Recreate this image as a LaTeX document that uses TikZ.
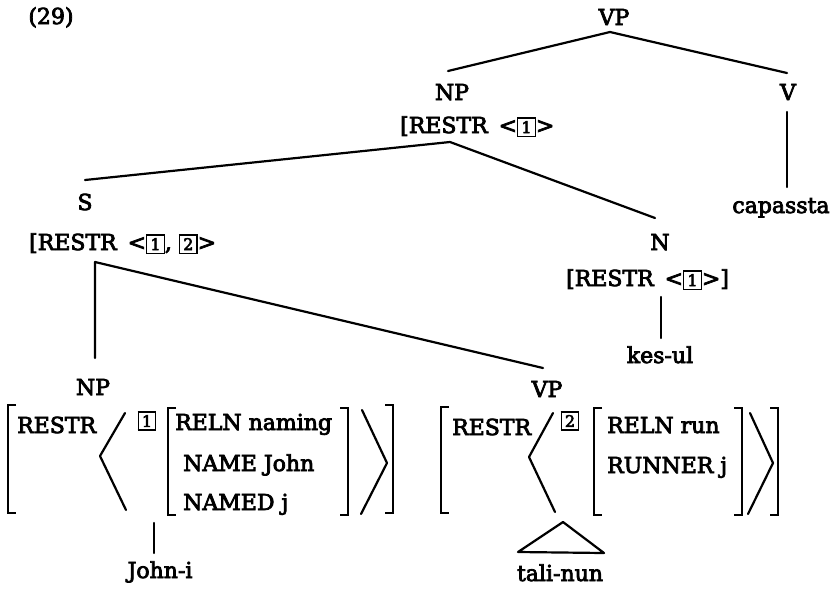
\documentclass[tikz,border=0pt]{standalone}
\usepackage{fontspec}
\setmainfont{DejaVu Serif}[FakeBold=3.5]
% boxed structure-sharing tag
\newcommand\tagnum[1]{{\setlength\fboxsep{2.5pt}\setlength\fboxrule{1.3pt}\fbox{\fontsize{16}{16}\selectfont\hspace{0.5pt}#1\hspace{0.5pt}}}}

\begin{document}
\begin{tikzpicture}[x=1pt,y=-1pt,
  lbl/.style={inner sep=0pt, font=\fontsize{22}{26}\selectfont, anchor=base},
  lblw/.style={lbl, anchor=base west},
  edge/.style={line width=2.2pt, line cap=round, line join=round},
  brk/.style={line width=2pt, line join=miter}]
\useasboundingbox (0,0) rectangle (837,590);

% ---------- labels ----------
\node[lbl] (ex) at (51,24) {(29)};
\node[lbl] (vp) at (614,25) {VP};
\node[lbl] (np) at (452,100) {NP};
\node[lblw] (nprestr) at (400,133) {[RESTR\enspace<\tagnum{1}>};
\node[lbl] (v) at (788,100) {V};
\node[lbl] (cap) at (781,213) {capassta};
\node[lbl] (s) at (85,210) {S};
\node[lblw] (srestr) at (29,250) {[RESTR\enspace<\tagnum{1}, \tagnum{2}>};
\node[lbl] (n) at (660,250) {N};
\node[lblw] (nrestr) at (566,286) {[RESTR\enspace<\tagnum{1}>]};
\node[lbl] (kes) at (660,363) {kes-ul};
\node[lbl] (np2) at (93,395) {NP};
\node[lbl] (vp2) at (547,397) {VP};
\node[lbl] (john) at (160,578) {John-i};
\node[lbl] (tali) at (560,581) {tali-nun};

% ---------- branch points ----------
\coordinate (vp-fork) at (610,32);
\coordinate (np-top) at (448,71);
\coordinate (v-top) at (787,73);
\coordinate (v-bot) at (787,112);
\coordinate (cap-top) at (787,187);
\coordinate (np-fork) at (450,142);
\coordinate (s-top) at (85,180);
\coordinate (n-top) at (655,218);
\coordinate (s-fork) at (95,262);
\coordinate (np2-top) at (95,358);
\coordinate (vp2-top) at (543,368);
\coordinate (n-bot) at (661,297);
\coordinate (kes-top) at (661,338);
\coordinate (np2-bot) at (154,523);
\coordinate (john-top) at (154,553);
\coordinate (tri-apex) at (563,522);
\coordinate (tri-l) at (518,552);
\coordinate (tri-r) at (604,553);

% ---------- tree edges ----------
\draw[edge] (np-top) -- (vp-fork) -- (v-top);
\draw[edge] (v-bot) -- (cap-top);
\draw[edge] (s-top) -- (np-fork) -- (n-top);
\draw[edge] (np2-top) -- (s-fork) -- (vp2-top);
\draw[edge] (n-bot) -- (kes-top);
\draw[edge] (np2-bot) -- (john-top);
\draw[edge] (tri-apex) -- (tri-l) -- (tri-r) -- cycle;

% ---------- NP feature structure ----------
\draw[brk] (16,405) -- (8,405) -- (8,513) -- (16,513);
\node[lblw] (np2restr) at (17,433) {RESTR};
\draw[edge] (125,413) -- (100,456) -- (126,510);
\node[anchor=center, inner sep=0pt] (np2tag) at (147,421) {\tagnum{1}};
\draw[brk] (176,408) -- (168,408) -- (168,515) -- (176,515);
\node[lblw] (reln1) at (175,430) {RELN naming};
\node[lblw] (name1) at (183,471) {NAME John};
\node[lblw] (named1) at (183,510) {NAMED j};
\draw[brk] (340,408) -- (348,408) -- (348,515) -- (340,515);
\draw[edge] (362,410) -- (387,463) -- (361,514);
\draw[brk] (385,405) -- (393,405) -- (393,513) -- (385,513);

% ---------- VP feature structure ----------
\draw[brk] (449,407) -- (441,407) -- (441,513) -- (449,513);
\node[lblw] (vp2restr) at (452,435) {RESTR};
\draw[edge] (553,413) -- (529,457) -- (555,512);
\node[anchor=center, inner sep=0pt] (vp2tag) at (570,421) {\tagnum{2}};
\draw[brk] (602,408) -- (594,408) -- (594,515) -- (602,515);
\node[lblw] (reln2) at (607,433) {RELN run};
\node[lblw] (runner) at (607,473) {RUNNER j};
\draw[brk] (734,408) -- (742,408) -- (742,515) -- (734,515);
\draw[edge] (750,413) -- (773,463) -- (748,514);
\draw[brk] (770,408) -- (778,408) -- (778,515) -- (770,515);
\end{tikzpicture}
\end{document}
